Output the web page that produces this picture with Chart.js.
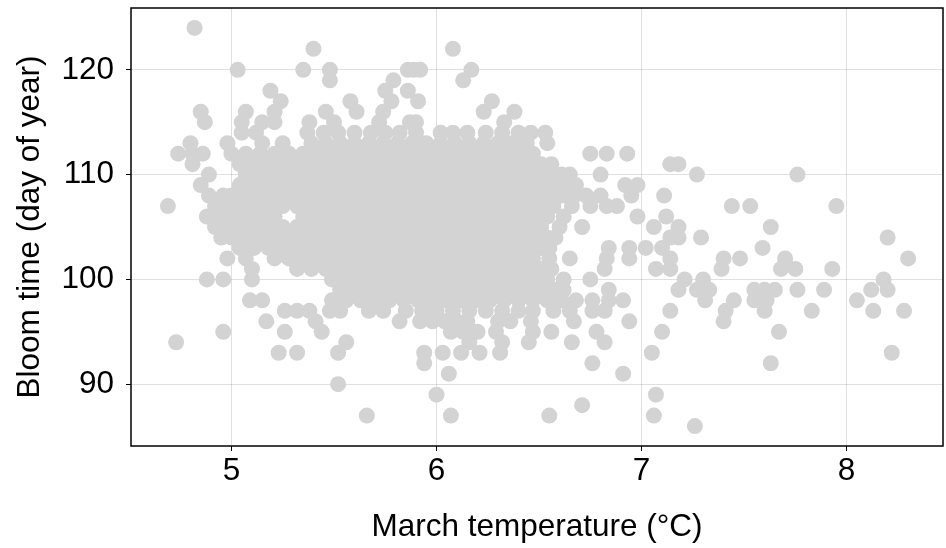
<!DOCTYPE html>
<html>
<head>
<meta charset="utf-8">
<script src="https://cdn.jsdelivr.net/npm/chart.js@4"></script>
<style>
  html, body { margin: 0; padding: 0; background: #ffffff; }
  canvas { display: block; }
</style>
</head>
<body>
<canvas id="bloomChart" width="946" height="548"></canvas>
<script>
// bloom day of year, and the March temperatures (°C) of the years that bloomed on it
const bloomDays = [124, 122, 120, 119, 118, 117, 116, 115, 114, 113, 112, 111, 110, 109, 108, 107, 106, 105, 104, 103, 102, 101, 100, 99, 98, 97, 96, 95, 94, 93, 92, 91, 90, 89, 88, 87, 86];
const marchTemps = [
    [4.82],
    [5.40, 6.08],
    [5.03, 5.35, 5.48, 5.86, 5.89, 5.92, 6.17],
    [5.48, 5.79, 6.13],
    [5.19, 5.75, 5.86],
    [5.24, 5.58, 5.78, 5.91, 6.27],
    [4.85, 5.07, 5.21, 5.46, 5.61, 5.74, 6.23, 6.38],
    [4.87, 5.05, 5.15, 5.21, 5.38, 5.50, 5.72, 5.87, 5.90, 6.33],
    [5.05, 5.12, 5.37, 5.45, 5.52, 5.60, 5.68, 5.75, 5.82, 5.90, 6.02, 6.08, 6.15, 6.24, 6.32, 6.40, 6.46, 6.53],
    [4.80, 4.98, 5.15, 5.25, 5.39, 5.46, 5.53, 5.60, 5.67, 5.74, 5.81, 5.88, 5.95, 6.02, 6.09, 6.16, 6.23, 6.30, 6.37, 6.44, 6.54],
    [4.74, 4.81, 4.86, 5.00, 5.07, 5.14, 5.21, 5.28, 5.35, 5.42, 5.49, 5.56, 5.63, 5.70, 5.77, 5.84, 5.91, 5.98, 6.05, 6.12, 6.19, 6.26, 6.33, 6.40, 6.47, 6.75, 6.83, 6.93],
    [4.81, 5.04, 5.11, 5.18, 5.25, 5.32, 5.39, 5.46, 5.53, 5.60, 5.67, 5.74, 5.81, 5.88, 5.95, 6.02, 6.09, 6.16, 6.23, 6.30, 6.37, 6.44, 6.51, 6.56, 7.14, 7.18],
    [4.89, 5.07, 5.14, 5.21, 5.28, 5.35, 5.42, 5.49, 5.56, 5.63, 5.70, 5.77, 5.84, 5.91, 5.98, 6.05, 6.12, 6.19, 6.26, 6.33, 6.40, 6.47, 6.54, 6.61, 6.65, 6.80, 7.27, 7.76],
    [4.85, 5.04, 5.11, 5.18, 5.25, 5.32, 5.39, 5.46, 5.53, 5.60, 5.67, 5.74, 5.81, 5.88, 5.95, 6.02, 6.09, 6.16, 6.23, 6.30, 6.37, 6.44, 6.51, 6.58, 6.65, 6.68, 6.92, 6.98],
    [4.89, 4.96, 5.00, 5.07, 5.14, 5.21, 5.28, 5.35, 5.42, 5.49, 5.56, 5.63, 5.70, 5.77, 5.84, 5.91, 5.98, 6.05, 6.12, 6.19, 6.26, 6.33, 6.40, 6.47, 6.54, 6.61, 6.67, 6.73, 6.80, 6.95, 7.11],
    [4.69, 4.92, 4.97, 5.04, 5.11, 5.18, 5.25, 5.32, 5.39, 5.46, 5.53, 5.60, 5.67, 5.74, 5.81, 5.88, 5.95, 6.02, 6.09, 6.16, 6.23, 6.30, 6.37, 6.44, 6.51, 6.57, 6.66, 6.75, 6.83, 6.88, 7.44, 7.53, 7.95],
    [4.88, 4.95, 5.00, 5.07, 5.14, 5.21, 5.35, 5.42, 5.49, 5.56, 5.63, 5.70, 5.77, 5.84, 5.91, 5.98, 6.05, 6.12, 6.19, 6.26, 6.33, 6.40, 6.47, 6.54, 6.62, 6.98, 7.12],
    [4.92, 4.98, 5.04, 5.11, 5.18, 5.25, 5.32, 5.39, 5.46, 5.53, 5.60, 5.67, 5.74, 5.81, 5.88, 5.95, 6.02, 6.09, 6.16, 6.23, 6.30, 6.37, 6.44, 6.51, 6.60, 6.71, 7.06, 7.18, 7.63],
    [4.95, 5.00, 5.07, 5.14, 5.21, 5.28, 5.35, 5.42, 5.49, 5.56, 5.63, 5.70, 5.77, 5.84, 5.91, 5.98, 6.05, 6.12, 6.19, 6.26, 6.33, 6.40, 6.47, 6.54, 6.58, 7.14, 7.18, 7.29, 8.20],
    [5.04, 5.11, 5.18, 5.25, 5.32, 5.39, 5.46, 5.53, 5.60, 5.67, 5.74, 5.81, 5.88, 5.95, 6.02, 6.09, 6.16, 6.23, 6.30, 6.37, 6.44, 6.51, 6.55, 6.84, 6.94, 7.02, 7.10, 7.59],
    [4.98, 5.07, 5.21, 5.28, 5.35, 5.42, 5.49, 5.56, 5.63, 5.70, 5.77, 5.84, 5.91, 5.98, 6.05, 6.12, 6.19, 6.26, 6.33, 6.40, 6.47, 6.55, 6.65, 6.83, 6.94, 7.14, 7.40, 7.48, 7.70, 8.30],
    [5.10, 5.32, 5.39, 5.46, 5.53, 5.60, 5.67, 5.74, 5.81, 5.88, 5.95, 6.02, 6.09, 6.16, 6.23, 6.30, 6.37, 6.44, 6.51, 6.56, 6.82, 7.07, 7.14, 7.39, 7.68, 7.75, 7.93],
    [4.88, 4.96, 5.10, 5.49, 5.56, 5.63, 5.70, 5.77, 5.84, 5.91, 5.98, 6.05, 6.12, 6.19, 6.26, 6.33, 6.40, 6.47, 6.54, 6.62, 6.75, 7.21, 7.30, 8.18],
    [5.53, 5.60, 5.67, 5.74, 5.81, 5.88, 5.95, 6.02, 6.09, 6.16, 6.23, 6.30, 6.37, 6.44, 6.51, 6.58, 6.62, 6.84, 7.18, 7.27, 7.33, 7.55, 7.60, 7.65, 7.76, 7.89, 8.12, 8.20],
    [5.09, 5.15, 5.49, 5.56, 5.63, 5.70, 5.77, 5.84, 5.91, 5.98, 6.05, 6.12, 6.19, 6.26, 6.33, 6.40, 6.47, 6.54, 6.61, 6.68, 6.76, 6.84, 6.91, 7.31, 7.45, 7.55, 7.61, 8.05],
    [5.26, 5.32, 5.38, 5.48, 5.53, 5.67, 5.74, 5.85, 5.93, 6.00, 6.08, 6.16, 6.24, 6.32, 6.40, 6.47, 6.57, 6.65, 6.76, 6.82, 7.14, 7.41, 7.60, 7.83, 8.13, 8.28],
    [5.17, 5.41, 5.82, 5.92, 5.98, 6.04, 6.10, 6.15, 6.30, 6.36, 6.46, 6.67, 6.94, 7.40],
    [4.96, 5.26, 5.44, 6.07, 6.13, 6.20, 6.29, 6.47, 6.56, 6.78, 7.10, 7.67],
    [4.73, 5.56, 6.16, 6.32, 6.45, 6.66, 6.82],
    [5.23, 5.32, 5.52, 5.94, 6.03, 6.12, 6.21, 6.31, 7.05, 8.22],
    [5.94, 6.76, 7.63],
    [6.06, 6.91],
    [5.52],
    [6.00, 7.07],
    [6.71],
    [5.66, 6.07, 6.55, 7.06],
    [7.26]
];
const tempTicks = [5, 6, 7, 8];
const dayTicks = [90, 100, 110, 120];

const points = bloomDays.flatMap((day, i) => marchTemps[i].map(t => ({ x: t, y: day })));

const FONT = "'Liberation Sans', Arial, sans-serif";
const FONT_SIZE = 31.5;
Chart.defaults.font.family = FONT;
Chart.defaults.color = '#000000';

// black box around the plotting area
const frame = {
    id: 'frame',
    afterDraw(chart) {
        const { ctx, chartArea: a } = chart;
        ctx.save();
        ctx.strokeStyle = '#000000';
        ctx.lineWidth = 1.5;
        ctx.strokeRect(a.left, a.top, a.right - a.left, a.bottom - a.top);
        ctx.restore();
    }
};

// no extra room for tick labels hanging past the ends of an axis
function noEdgePadding(scale) {
    scale.paddingTop = 0;
    scale.paddingBottom = 0;
    scale.paddingLeft = 0;
    scale.paddingRight = 0;
}

const gridColor = 'rgba(0, 0, 0, 0.12)';

new Chart(document.getElementById('bloomChart'), {
    type: 'scatter',
    data: {
        datasets: [{
            data: points,
            backgroundColor: '#d3d3d3',
            borderWidth: 0,
            pointRadius: 8,
            pointHoverRadius: 8
        }]
    },
    options: {
        responsive: false,
        devicePixelRatio: 1,
        animation: false,
        layout: { autoPadding: false, padding: { top: 8, right: 3, left: 0, bottom: 0 } },
        plugins: {
            legend: { display: false },
            tooltip: { enabled: false }
        },
        scales: {
            x: {
                type: 'linear',
                min: 4.51,
                max: 8.47,
                afterBuildTicks: scale => { scale.ticks = tempTicks.map(v => ({ value: v })); },
                afterFit: scale => { scale.height = 102; noEdgePadding(scale); },
                grid: { color: gridColor, tickColor: '#000000', tickLength: 5, lineWidth: 1 },
                border: { display: false },
                ticks: { font: { size: FONT_SIZE }, padding: 1, maxRotation: 0 },
                title: { display: true, text: 'March temperature (°C)', font: { size: FONT_SIZE }, padding: { top: 0, bottom: 2 } }
            },
            y: {
                type: 'linear',
                min: 84.1,
                max: 125.9,
                afterBuildTicks: scale => { scale.ticks = dayTicks.map(v => ({ value: v })); },
                afterFit: scale => { scale.width = 131; noEdgePadding(scale); },
                grid: { color: gridColor, tickColor: '#000000', tickLength: 5, lineWidth: 1 },
                border: { display: false },
                ticks: { font: { size: FONT_SIZE }, padding: 12 },
                title: { display: true, text: 'Bloom time (day of year)', font: { size: FONT_SIZE }, padding: { top: 11, bottom: 0 } }
            }
        }
    },
    plugins: [frame]
});
</script>
</body>
</html>
